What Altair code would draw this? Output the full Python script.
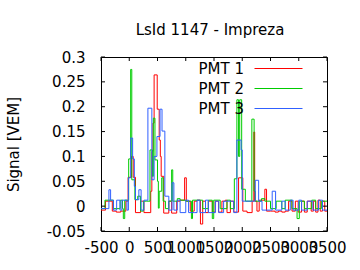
import altair as alt
import pandas as pd

series_names = ["PMT 1", "PMT 2", "PMT 3"]
colors = ["#ff0000", "#00cc00", "#3060ff"]

pmt1_t = [-500, -420, -300, -230, -150, -60, -20, 40, 70, 110, 200, 260, 380, 400, 420, 440, 495, 530, 550, 565,
          610, 700, 750, 840, 900, 980, 1010, 1080, 1150, 1200, 1260, 1300, 1350, 1400, 1470, 1520, 1580, 1640,
          1700, 1730, 1790, 1850, 1935, 2010, 2085, 2175, 2205, 2220, 2260, 2300, 2400, 2430, 2500, 2580, 2640,
          2700, 2760, 2820, 2880, 2940, 2990, 3050, 3100, 3150, 3220, 3260, 3300, 3340, 3380, 3420, 3460, 3500]
pmt1_v = [-0.008, 0.01, -0.01, -0.012, -0.01, 0.01, 0.058, 0.10, 0.058, -0.013, 0.01, -0.013, 0.03, 0.11, 0.167,
          0.264, 0.195, 0.133, 0.10, 0.06, -0.014, 0.01, -0.014, 0.01, 0.012, 0.057, 0.01, -0.01, 0.01, 0.012,
          -0.036, 0.01, -0.013, 0.01, -0.012, 0.01, -0.012, 0.01, 0.012, -0.013, 0.01, -0.012, 0.057, -0.01,
          -0.013, 0.01, 0.149, 0.01, -0.01, 0.012, 0.034, -0.01, -0.01, -0.012, -0.01, -0.012, -0.01, 0.01, -0.01,
          0.01, -0.012, 0.01, -0.012, 0.01, -0.01, 0.01, -0.012, 0.012, -0.01, 0.01, -0.01, -0.01]

pmt2_t = [-500, -430, -280, -160, -120, -105, -80, -10, 25, 45, 100, 150, 200, 250, 300, 367, 410, 426, 455, 500,
          515, 530, 575, 600, 640, 700, 750, 770, 850, 900, 1000, 1100, 1120, 1200, 1300, 1400, 1470, 1495, 1610,
          1730, 1790, 1860, 1905, 1935, 1955, 1990, 2055, 2170, 2210, 2230, 2340, 2400, 2500, 2600, 2700, 2760,
          2880, 2970, 3010, 3100, 3230, 3300, 3400, 3500]
pmt2_v = [-0.005, 0.012, -0.005, 0.012, -0.005, -0.025, 0.012, 0.095, 0.275, 0.053, 0.013, 0.02, -0.01, 0.01, 0.01,
          0.113, 0.06, 0.177, 0.093, 0.05, -0.004, 0.03, 0.057, 0.01, -0.005, 0.01, 0.073, 0.01, 0.015, 0.012,
          0.01, -0.025, 0.012, 0.012, -0.005, 0.012, -0.025, 0.012, -0.005, 0.012, -0.005, 0.055, 0.214, 0.10,
          0.214, 0.034, 0.01, 0.175, 0.03, 0.01, 0.015, 0.01, -0.005, 0.01, -0.005, 0.012, -0.005, -0.025, 0.01,
          -0.005, 0.012, -0.005, 0.01, 0.01]

pmt3_t = [-500, -360, -330, -280, -223, -164, -130, -40, -15, 25, 60, 90, 110, 170, 210, 260, 330, 400, 440, 490,
          545, 580, 630, 700, 757, 790, 850, 900, 1000, 1050, 1150, 1200, 1250, 1350, 1400, 1525, 1583, 1670,
          1850, 1905, 1980, 2000, 2060, 2230, 2290, 2350, 2530, 2590, 2700, 2760, 2850, 2900, 3000, 3050, 3150,
          3250, 3350, 3420, 3500]
pmt3_v = [-0.005, 0.033, 0.012, -0.008, 0.012, -0.008, 0.012, -0.008, 0.057, 0.137, 0.095, 0.04, 0.013, 0.033,
          -0.008, 0.012, 0.197, 0.053, 0.10, 0.14, 0.195, 0.151, 0.02, -0.008, 0.047, -0.008, 0.012, -0.013,
          0.012, -0.013, -0.013, 0.012, -0.013, 0.012, -0.013, 0.01, -0.013, 0.01, -0.013, 0.133, 0.113, 0.01,
          0.01, 0.052, 0.01, -0.008, 0.03, -0.008, 0.01, -0.008, 0.012, -0.008, 0.012, -0.008, 0.01, -0.008,
          0.012, -0.008, -0.008]

x_ticks = [-500, 0, 500, 1000, 1500, 2000, 2500, 3000, 3500]
y_ticks = [-0.05, 0, 0.05, 0.1, 0.15, 0.2, 0.25, 0.3]

rows = []
for name, ts, vs in zip(series_names, [pmt1_t, pmt2_t, pmt3_t], [pmt1_v, pmt2_v, pmt3_v]):
    for i, (t, v) in enumerate(zip(ts, vs)):
        rows.append({"series": name, "t": t, "v": v, "order": i})
df = pd.DataFrame(rows)

FONT = "DejaVu Sans"
W, H = 226, 174

xscale = alt.Scale(domain=[-500, 3500], nice=False, zero=False)
yscale = alt.Scale(domain=[-0.05, 0.3], nice=False, zero=False)

x_axis = alt.Axis(
    values=x_ticks, title=None, ticks=False, tickSize=0, domain=False, grid=False,
    labelFontSize=15, labelFont=FONT, labelColor="black", labelPadding=9,
    labelOverlap=False, labelBound=False, labelFlush=False,
    labelExpr="'' + datum.value")
y_axis = alt.Axis(
    values=y_ticks, title="Signal [VEM]", ticks=False, tickSize=0, domain=False, grid=False,
    labelFontSize=15, labelFont=FONT, labelColor="black", labelPadding=16,
    labelOverlap=False, labelBound=False, labelFlush=False,
    labelExpr="'' + datum.value",
    titleFont=FONT, titleFontSize=15, titleFontWeight="normal", titleColor="black",
    titleX=-88, titleY=87, titleAngle=270, titleAlign="center", titleBaseline="middle")

lines = alt.Chart(df).mark_line(interpolate="step-after", strokeWidth=1, clip=True).encode(
    x=alt.X("t:Q", scale=xscale, axis=x_axis),
    y=alt.Y("v:Q", scale=yscale, axis=y_axis),
    color=alt.Color("series:N", scale=alt.Scale(domain=series_names, range=colors), legend=alt.Legend(
        title=None, orient="none", legendX=170, legendY=4, direction="vertical",
        symbolType="M-4,0H4", symbolSize=144, symbolStrokeWidth=1,
        labelAlign="right", labelOffset={"expr": "-42"}, labelFontSize=15, labelFont=FONT,
        labelColor="black", rowPadding=4, padding=0)),
    order="order:Q",
)

xt = pd.DataFrame({"t": x_ticks})
yt = pd.DataFrame({"v": y_ticks})
tick_x_bottom = alt.Chart(xt).mark_rule(color="black", strokeWidth=1).encode(
    x=alt.X("t:Q", scale=xscale, axis=x_axis), y=alt.value(H), y2=alt.value(H - 4))
tick_x_top = alt.Chart(xt).mark_rule(color="black", strokeWidth=1).encode(
    x=alt.X("t:Q", scale=xscale, axis=x_axis), y=alt.value(0), y2=alt.value(4))
tick_y_left = alt.Chart(yt).mark_rule(color="black", strokeWidth=1).encode(
    y=alt.Y("v:Q", scale=yscale, axis=y_axis), x=alt.value(0), x2=alt.value(4))
tick_y_right = alt.Chart(yt).mark_rule(color="black", strokeWidth=1).encode(
    y=alt.Y("v:Q", scale=yscale, axis=y_axis), x=alt.value(W), x2=alt.value(W - 4))

chart = alt.layer(lines, tick_x_bottom, tick_x_top, tick_y_left, tick_y_right).properties(
    width=W, height=H,
    title=alt.TitleParams("LsId 1147 - Impreza", font=FONT, fontSize=15, fontWeight="normal",
                          color="black", offset=12, dx=-4, anchor="middle"),
    autosize=alt.AutoSizeParams(type="none"),
    padding={"left": 101, "top": 57, "right": 33, "bottom": 39},
    background="white",
).configure_view(stroke="black", strokeWidth=1)

chart.save("out.html", embed_options={"renderer": "svg", "actions": False})
